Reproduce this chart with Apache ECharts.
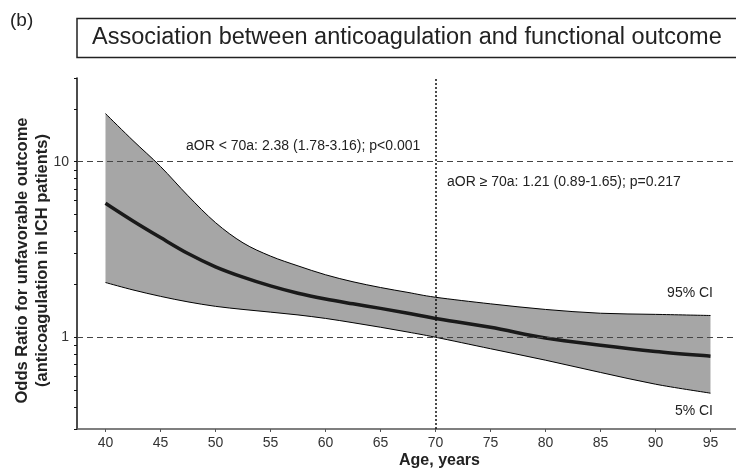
<!DOCTYPE html>
<html>
<head>
<meta charset="utf-8">
<script src="https://cdn.jsdelivr.net/npm/echarts@6/dist/echarts.min.js"></script>
<style>
html, body { margin: 0; padding: 0; background: #fff; }
#main { width: 736px; height: 475px; }
</style>
</head>
<body>
<div id="main"></div>
<script>
// data
var ages = [40, 42.5, 45, 47.5, 50, 52.5, 55, 57.5, 60, 62.5, 65, 67.5, 70, 75, 80, 85, 90, 95];
var upperCI = [18.8, 13.2, 9.4, 6.4, 4.5, 3.45, 2.9, 2.55, 2.27, 2.07, 1.92, 1.8, 1.69, 1.55, 1.44, 1.37, 1.35, 1.33];
var oddsRatio = [5.8, 4.6, 3.7, 3.0, 2.52, 2.2, 1.96, 1.78, 1.65, 1.55, 1.46, 1.37, 1.28, 1.14, 0.99, 0.9, 0.83, 0.78];
var lowerCI = [2.05, 1.86, 1.71, 1.59, 1.5, 1.44, 1.39, 1.34, 1.28, 1.21, 1.14, 1.07, 1.0, 0.86, 0.74, 0.63, 0.54, 0.48];
var xTicks = [40, 45, 50, 55, 60, 65, 70, 75, 80, 85, 90, 95];
var yLabels = [1, 10];
var yTicks = [0.3, 0.4, 0.5, 0.6, 0.7, 0.8, 0.9, 1, 2, 3, 4, 5, 6, 7, 8, 9, 10, 20, 30];
var refLinesY = [1, 10];
var refLineX = 70;

var font = 'Liberation Sans, Arial, sans-serif';

// catmull-rom through pixel points, as svg path commands
function curve(pts, start) {
    var d = start + pts[0][0] + ' ' + pts[0][1];
    for (var i = 0; i < pts.length - 1; i++) {
        var p0 = pts[i - 1] || pts[i], p1 = pts[i], p2 = pts[i + 1], p3 = pts[i + 2] || pts[i + 1];
        var c1x = p1[0] + (p2[0] - p0[0]) / 6, c1y = p1[1] + (p2[1] - p0[1]) / 6;
        var c2x = p2[0] - (p3[0] - p1[0]) / 6, c2y = p2[1] - (p3[1] - p1[1]) / 6;
        d += ' C' + c1x + ' ' + c1y + ' ' + c2x + ' ' + c2y + ' ' + p2[0] + ' ' + p2[1];
    }
    return d;
}

function toPixels(api, ys) {
    return ages.map(function (a, i) { return api.coord([a, ys[i]]); });
}

function renderBand(params, api) {
    if (params.dataIndex !== 0) return null;
    var up = toPixels(api, upperCI);
    var lo = toPixels(api, lowerCI);
    var upPath = curve(up, 'M');
    var loPath = curve(lo, 'M');
    var band = upPath + ' ' + curve(lo.slice().reverse(), 'L') + ' Z';
    return {
        type: 'group',
        children: [
            { type: 'path', shape: { pathData: band }, style: { fill: '#a6a6a6', stroke: null } },
            { type: 'path', shape: { pathData: upPath }, style: { fill: null, stroke: '#000', lineWidth: 1 } },
            { type: 'path', shape: { pathData: loPath }, style: { fill: null, stroke: '#000', lineWidth: 1 } }
        ]
    };
}

function renderOR(params, api) {
    if (params.dataIndex !== 0) return null;
    return {
        type: 'path',
        shape: { pathData: curve(toPixels(api, oddsRatio), 'M') },
        style: { fill: null, stroke: '#1a1a1a', lineWidth: 3.5 }
    };
}

var myChart = echarts.init(document.getElementById('main'));

var option = {
    backgroundColor: '#fff',
    animation: false,
    grid: { left: 77, right: 0, top: 78, bottom: 46, outerBoundsMode: 'none' },
    xAxis: {
        type: 'value',
        min: 37.41,
        max: 97.32,
        name: 'Age, years',
        nameLocation: 'middle',
        nameGap: 24,
        nameMoveOverlap: false,
        nameTextStyle: { fontFamily: font, fontWeight: 'bold', fontSize: 16, color: '#222', padding: [0, 0, 0, 66] },
        splitLine: { show: false },
        axisLine: { lineStyle: { color: '#555', width: 1.5 } },
        axisTick: { customValues: xTicks, length: 3, lineStyle: { color: '#555' } },
        axisLabel: { customValues: xTicks, margin: 7, fontFamily: font, fontSize: 14, color: '#333' }
    },
    yAxis: {
        type: 'log',
        logBase: 10,
        min: 0.3,
        max: 30,
        name: 'Odds Ratio for unfavorable outcome\n(anticoagulation in ICH patients)',
        nameLocation: 'middle',
        nameRotate: 90,
        nameGap: 25,
        nameMoveOverlap: false,
        nameTextStyle: { fontFamily: font, fontWeight: 'bold', fontSize: 16.5, color: '#222', lineHeight: 20, padding: [0, 14, 0, 0] },
        splitLine: { show: false },
        axisLine: { show: true, lineStyle: { color: '#111', width: 1.5 } },
        axisTick: { customValues: yTicks, length: 3, lineStyle: { color: '#111' } },
        axisLabel: { customValues: yLabels, margin: 8, fontFamily: font, fontSize: 14, color: '#333' }
    },
    series: [
        {
            name: '95% CI band',
            type: 'custom',
            renderItem: renderBand,
            data: ages.map(function (a, i) { return [a, upperCI[i], lowerCI[i]]; }),
            encode: { x: 0, y: [1, 2] },
            z: 2
        },
        {
            // reference lines only
            name: 'ref',
            type: 'line',
            data: [],
            z: 3,
            markLine: {
                silent: true,
                symbol: 'none',
                label: { show: false },
                data: [
                    { yAxis: refLinesY[0], lineStyle: { type: [6, 4], color: '#444', width: 1 } },
                    { yAxis: refLinesY[1], lineStyle: { type: [6, 4], color: '#444', width: 1 } },
                    { xAxis: refLineX, lineStyle: { type: [2, 2], color: '#111', width: 1.5 } }
                ]
            }
        },
        {
            name: 'aOR',
            type: 'custom',
            renderItem: renderOR,
            data: ages.map(function (a, i) { return [a, oddsRatio[i]]; }),
            encode: { x: 0, y: 1 },
            z: 4
        }
    ],
    graphic: [
        { type: 'text', left: 10, top: 11, z: 10, style: { text: '(b)', font: '19px ' + font, fill: '#222' } },
        { type: 'rect', z: 10, shape: { x: 77, y: 18.5, width: 670, height: 39 }, style: { fill: 'none', stroke: '#222', lineWidth: 1.5 } },
        { type: 'text', x: 92, y: 38, z: 10, style: { text: 'Association between anticoagulation and functional outcome', font: '23.5px ' + font, fill: '#222', verticalAlign: 'middle' } },
        { type: 'text', x: 186, y: 146, z: 10, style: { text: 'aOR < 70a: 2.38 (1.78-3.16); p<0.001', font: '14px ' + font, fill: '#222', verticalAlign: 'middle' } },
        { type: 'text', x: 447, y: 182, z: 10, style: { text: 'aOR \u2265 70a: 1.21 (0.89-1.65); p=0.217', font: '14px ' + font, fill: '#222', verticalAlign: 'middle' } },
        { type: 'text', x: 713, y: 293, z: 10, style: { text: '95% CI', font: '14px ' + font, fill: '#222', align: 'right', verticalAlign: 'middle' } },
        { type: 'text', x: 713, y: 411, z: 10, style: { text: '5% CI', font: '14px ' + font, fill: '#222', align: 'right', verticalAlign: 'middle' } }
    ]
};

myChart.setOption(option);
</script>
</body>
</html>
